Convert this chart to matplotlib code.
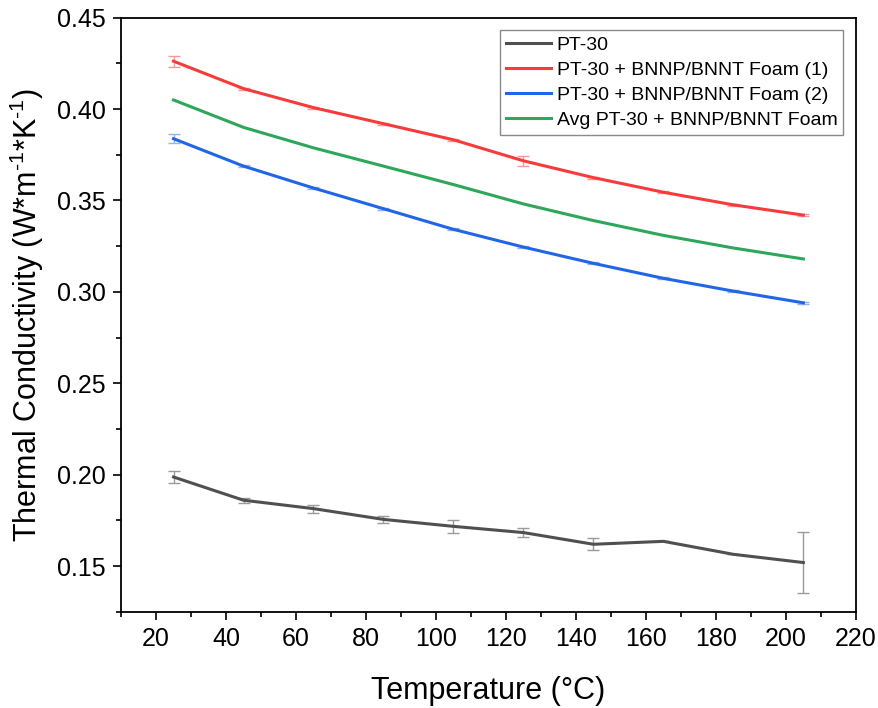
import matplotlib
matplotlib.use("Agg")
import matplotlib.pyplot as plt
from matplotlib.ticker import MultipleLocator

plt.rcParams["font.family"] = ["Liberation Sans", "DejaVu Sans"]
plt.rcParams["mathtext.fontset"] = "custom"
plt.rcParams["mathtext.rm"] = "Liberation Sans"
plt.rcParams["mathtext.it"] = "Liberation Sans:italic"

# Temperature (°C)
temperature = [25, 45, 65, 85, 105, 125, 145, 165, 185, 205]

# Thermal conductivity (W m^-1 K^-1) and standard deviations
pt30 = [0.1987, 0.1860, 0.1814, 0.1755, 0.1717, 0.1683, 0.1619, 0.1635, 0.1564, 0.1519]
pt30_err = [0.0035, 0.0013, 0.0022, 0.0020, 0.0035, 0.0025, 0.0034, 0.0, 0.0, 0.0166]

foam1 = [0.4262, 0.4112, 0.4008, 0.3920, 0.3832, 0.3717, 0.3625, 0.3545, 0.3476, 0.3420]
foam1_err = [0.0030, 0.0006, 0.0006, 0.0006, 0.0006, 0.0027, 0.0006, 0.0006, 0.0006, 0.0006]

foam2 = [0.3838, 0.3688, 0.3568, 0.3455, 0.3342, 0.3245, 0.3156, 0.3074, 0.3004, 0.2940]
foam2_err = [0.0023, 0.0005, 0.0005, 0.0005, 0.0005, 0.0005, 0.0005, 0.0005, 0.0005, 0.0005]

foam_avg = [0.4050, 0.3900, 0.3788, 0.3688, 0.3587, 0.3481, 0.3390, 0.3309, 0.3240, 0.3180]

labels = ["PT-30", "PT-30 + BNNP/BNNT Foam (1)", "PT-30 + BNNP/BNNT Foam (2)",
          "Avg PT-30 + BNNP/BNNT Foam"]
line_colors = ["#505050", "#f83a3a", "#2166e6", "#2ea75b"]
err_colors = ["#9a9a9a", "#f59a9a", "#8fb3f2", "#93d3aa"]

fig = plt.figure(figsize=(8.79, 7.08), dpi=100)
ax = fig.add_axes([0.1377, 0.136, 0.836, 0.839])

series = [(pt30, pt30_err), (foam1, foam1_err), (foam2, foam2_err), (foam_avg, None)]
for (vals, errs), lab, lc, ec in zip(series, labels, line_colors, err_colors):
    ax.plot(temperature, vals, color=lc, lw=2.2, label=lab, zorder=3)
    if errs is not None:
        ax.errorbar(temperature, vals, yerr=errs, fmt="none", ecolor=ec,
                    elinewidth=1.0, capsize=4, capthick=1.0, zorder=2)

ax.set_xlim(10, 220)
ax.set_ylim(0.125, 0.45)
ax.xaxis.set_major_locator(MultipleLocator(20))
ax.xaxis.set_minor_locator(MultipleLocator(10))
ax.yaxis.set_major_locator(MultipleLocator(0.05))
ax.yaxis.set_minor_locator(MultipleLocator(0.025))
ax.yaxis.set_major_formatter(plt.FuncFormatter(lambda v, p: f"{v:.2f}"))

ax.tick_params(which="major", direction="out", length=6, width=1.2,
               labelsize=18, pad=5, top=False, right=False)
ax.tick_params(which="minor", direction="out", length=3.5, width=1.2,
               top=False, right=False)
for s in ax.spines.values():
    s.set_linewidth(1.3)

ax.set_xlabel("Temperature (°C)", fontsize=22, labelpad=18)
ax.set_ylabel("Thermal Conductivity (W*m$^{\u20101}$*K$^{\u20101}$)",
              fontsize=22, labelpad=8)

leg = ax.legend(loc="upper right", fontsize=14, frameon=True, fancybox=False,
                edgecolor="#8a8a8a", framealpha=1, handlelength=2.3,
                handletextpad=0.3, labelspacing=0.38, borderpad=0.3,
                borderaxespad=0.65)
leg.get_frame().set_linewidth(1.0)

fig.savefig("out.png", dpi=100)
